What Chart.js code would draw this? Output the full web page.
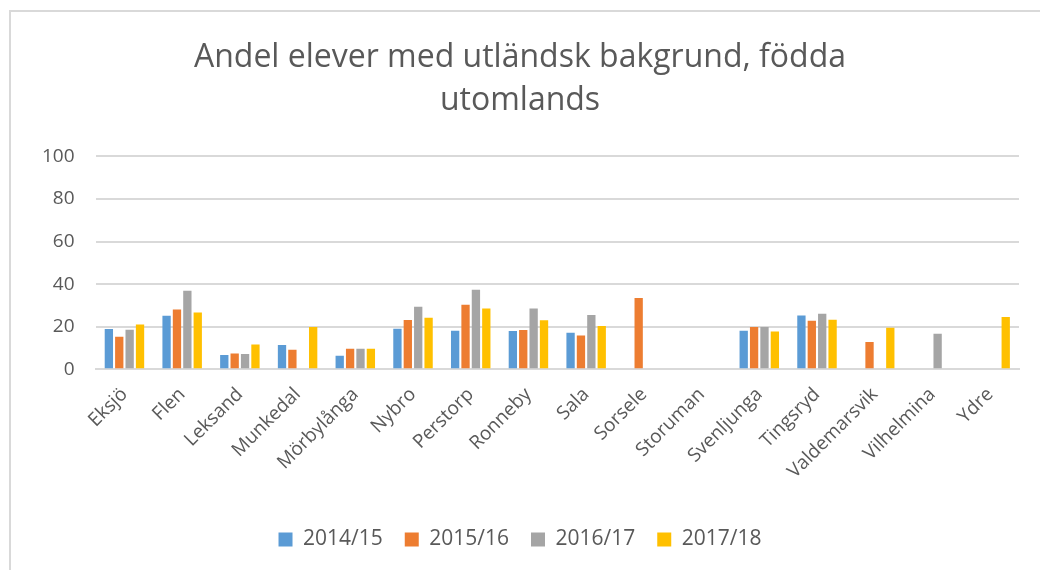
<!DOCTYPE html>
<html>
<head>
<meta charset="utf-8">
<script src="https://cdn.jsdelivr.net/npm/chart.js@4.4.0/dist/chart.umd.min.js"></script>
<style>
  html, body { margin: 0; padding: 0; background: #fff; }
  #frame {
    position: absolute; left: 9px; top: 10px; width: 1040px; height: 570px;
    border-left: 2px solid #d9d9d9; border-top: 2px solid #d9d9d9;
  }
  #wrap { position: absolute; left: 11px; top: 12px; width: 1029px; height: 558px; }
</style>
</head>
<body>
<div id="frame"></div>
<div id="wrap"><canvas id="myChart"></canvas></div>
<script>
var KOMMUNER = ["Eksjö","Flen","Leksand","Munkedal","Mörbylånga","Nybro","Perstorp","Ronneby","Sala","Sorsele","Storuman","Svenljunga","Tingsryd","Valdemarsvik","Vilhelmina","Ydre"]
var Y_14_15 = [18.9, 25.2, 6.7, 11.4, 6.4, 19.1, 18.1, 18.0, 17.2, null, null, 18.1, 25.3, null, null, null]
var Y_15_16 = [15.3, 28.1, 7.4, 9.2, 9.7, 23.2, 30.3, 18.5, 15.9, 33.5, null, 19.9, 22.8, 12.8, null, null]
var Y_16_17 = [18.6, 36.9, 7.2, null, 9.7, 29.4, 37.4, 28.5, 25.5, null, null, 19.9, 26.1, null, 16.7, null]
var Y_17_18 = [21.0, 26.7, 11.7, 19.9, 9.7, 24.2, 28.6, 23.0, 20.3, null, null, 17.7, 23.3, 19.5, null, 24.6]
var SERIES = ["2014/15","2015/16","2016/17","2017/18"]
var COLORS = ["#5b9bd5","#ed7d31","#a5a5a5","#ffc000"]
var Y_TICKS = [0, 20, 40, 60, 80, 100]

var font = "'Open Sans', 'DejaVu Sans', sans-serif"
var textColor = "#595959"

function ds(i, values) {
  return {
    label: SERIES[i],
    data: values,
    backgroundColor: COLORS[i],
    borderColor: COLORS[i],
    borderWidth: 0,
    categoryPercentage: 0.72,
    barPercentage: 0.8
  }
}

var myChart = new Chart(document.getElementById("myChart"), {
  type: "bar",
  data: {
    labels: KOMMUNER,
    datasets: [ds(0, Y_14_15), ds(1, Y_15_16), ds(2, Y_16_17), ds(3, Y_17_18)]
  },
  options: {
    responsive: true,
    maintainAspectRatio: false,
    animation: false,
    layout: { padding: { left: 10, right: 21, top: 12, bottom: 10 } },
    plugins: {
      title: {
        display: true,
        text: ["Andel elever med utländsk bakgrund, födda", "utomlands"],
        font: { family: font, size: 32, weight: "normal", lineHeight: 1.35 },
        color: textColor,
        padding: { top: 12, bottom: 34 }
      },
      legend: {
        position: "bottom",
        labels: {
          boxWidth: 14, boxHeight: 14,
          font: { family: font, size: 21 },
          color: textColor,
          padding: 22
        }
      },
      tooltip: { enabled: false }
    },
    scales: {
      x: {
        grid: { display: false },
        border: { color: "#d9d9d9", width: 2 },
        afterFit: function(axis) { axis.height += 18 },
        ticks: {
          font: { family: font, size: 19 },
          color: textColor,
          padding: 6,
          minRotation: 45, maxRotation: 45,
          autoSkip: false
        }
      },
      y: {
        min: 0, max: 100,
        afterBuildTicks: function(axis) { axis.ticks = Y_TICKS.map(function(v){ return { value: v } }) },
        grid: { color: "#d9d9d9", lineWidth: 2, drawTicks: false },
        border: { display: false },
        ticks: {
          font: { family: font, size: 19 },
          color: textColor,
          padding: 21
        }
      }
    }
  }
})
</script>
</body>
</html>
